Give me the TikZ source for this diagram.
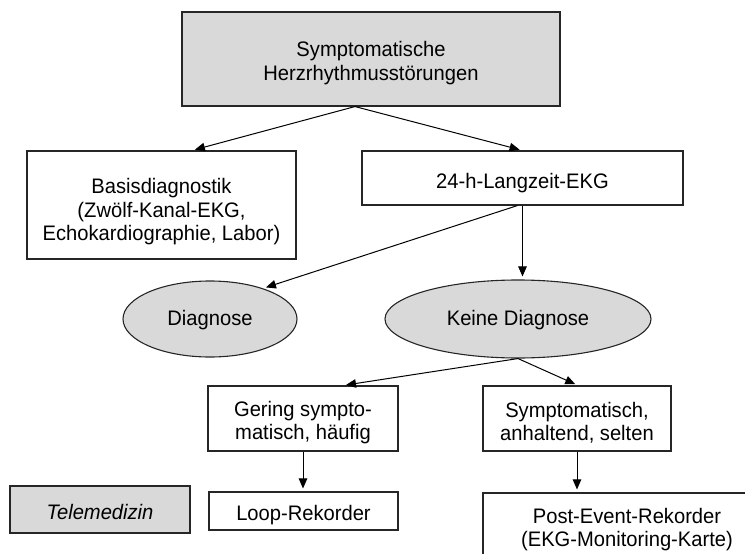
\documentclass[tikz,border=0pt]{standalone}
\usepackage{fontspec}
\setmainfont{Liberation Sans}[FakeStretch=0.96]
\usepackage{xcolor}
\usetikzlibrary{arrows.meta, shapes.geometric}
\definecolor{boxgray}{HTML}{D9D9D9}
\tikzset{every node/.append style={font=\fontsize{21}{23.5}\selectfont}}
% strut that pushes the first line of a box a little down
\newcommand{\dn}[1]{\rule{0pt}{\dimexpr15.3pt+#1pt*2\relax}}

\begin{document}
\begin{tikzpicture}[x=1pt, y=-1pt, >={Triangle[length=10pt,width=8.5pt]},
    box/.style={draw=black!85, line width=1.1pt, inner sep=0pt, align=center},
    oval/.style={ellipse, draw=black!85, line width=1.1pt, fill=boxgray, inner sep=0pt},
    link/.style={->, line width=1pt, shorten >=3pt}]
    \useasboundingbox (0,0) rectangle (745,554);
    \node[box, fill=boxgray, minimum width=378pt, minimum height=94pt] (top) at (371,59)
        {\dn{4}Symptomatische\\Herzrhythmusstörungen};
    \node[box, minimum width=269pt, minimum height=108pt] (basis) at (161.5,205)
        {\dn{7}Basisdiagnostik\\(Zwölf-Kanal-EKG,\\Echokardiographie, Labor)};
    \node[box, minimum width=321pt, minimum height=54pt] (lzekg) at (522.5,178) {\dn{5}24-h-Langzeit-EKG};
    \node[oval, minimum width=174pt, minimum height=76pt] (diag) at (210,319) {\dn{1.5}Diagnose};
    \node[oval, minimum width=266pt, minimum height=78pt] (keine) at (518,319) {\dn{1.5}Keine Diagnose};
    \node[box, minimum width=190pt, minimum height=65pt] (gering) at (303,418.5)
        {\dn{4}Gering sympto-\\matisch, häufig};
    \node[box, minimum width=188pt, minimum height=65pt] (sympt) at (577,418.5)
        {\dn{4}Symptomatisch,\\anhaltend, selten};
    \node[box, minimum width=189pt, minimum height=38pt] (loop) at (303.5,511) {\dn{4}Loop-Rekorder};
    \node[box, fill=boxgray, minimum width=180pt, minimum height=47pt] (tele) at (100,509.5)
        {\dn{2.5}\itshape Telemedizin};
    \node[box, minimum width=288pt, minimum height=69pt] (post) at (627,527.5)
        {\dn{2}Post-Event-Rekorder\\(EKG-Monitoring-Karte)};

    \draw[link] ([xshift=-16pt]top.south) -- ([xshift=30.5pt]basis.north);
    \draw[link] ([xshift=-16pt]top.south) -- (lzekg.north);
    \draw[link] (lzekg.south) -- (lzekg.south |- keine.north);
    \draw[link] ([xshift=-5pt]lzekg.south) -- (diag.30);
    \draw[link] (keine.south) -- ([xshift=40pt]gering.north);
    \draw[link] (keine.south) -- ([xshift=1pt]sympt.north);
    \draw[link] (gering.south) -- (gering.south |- loop.north);
    \draw[link] (sympt.south) -- (sympt.south |- post.north);
\end{tikzpicture}
\end{document}
